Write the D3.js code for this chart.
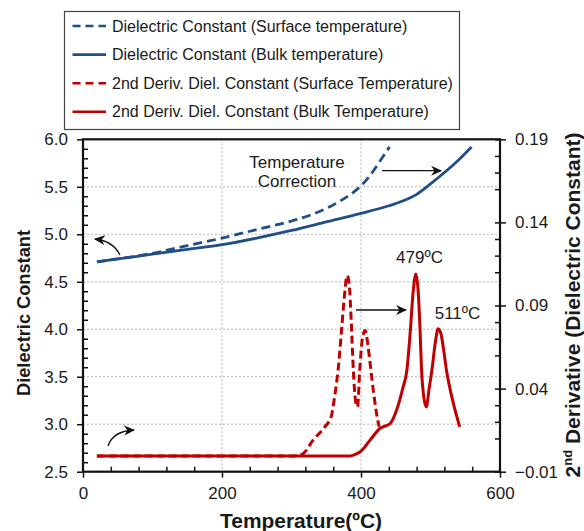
<!DOCTYPE html>
<html>
<head>
<meta charset="utf-8">
<script src="https://cdn.jsdelivr.net/npm/d3@7"></script>
<style>
body { margin: 0; background: #fff; }
text { font-family: "Liberation Sans", Arial, sans-serif; fill: #1a1a1a; }
</style>
</head>
<body>
<script>
// dielectric constant vs temperature (left axis)
var surfTemp = [20, 50, 100, 150, 200, 250, 300, 330, 355, 370, 385, 400, 410, 420, 430, 441];
var surfDiel = [4.71, 4.74, 4.80, 4.88, 4.96, 5.05, 5.14, 5.21, 5.29, 5.35, 5.42, 5.51, 5.59, 5.69, 5.80, 5.92];
var bulkTemp = [20, 50, 100, 150, 200, 250, 300, 350, 400, 440, 460, 480, 500, 520, 540, 559];
var bulkDiel = [4.71, 4.74, 4.79, 4.84, 4.89, 4.96, 5.04, 5.13, 5.22, 5.30, 5.35, 5.42, 5.53, 5.65, 5.78, 5.92];

// 2nd derivative (right axis)
var surfDerivTemp = [20, 305, 317, 331, 348, 357, 362, 367, 372, 376, 380, 383, 386, 389, 392, 395, 398, 402, 406, 410, 414, 418, 422, 426];
var surfDeriv = [-0.0005, -0.0005, 0.001, 0.009, 0.017, 0.023, 0.035, 0.051, 0.075, 0.095, 0.108, 0.103, 0.080, 0.051, 0.033, 0.029, 0.050, 0.070, 0.075, 0.066, 0.052, 0.038, 0.026, 0.017];
var bulkDerivTemp = [20, 384, 392, 399, 413, 427, 442, 452, 460, 466, 471, 475, 479, 482, 485, 487, 490, 494, 498, 502, 507, 511, 515, 519, 523, 528, 533, 538, 542];
var bulkDeriv = [-0.0005, -0.0005, 0.0005, 0.002, 0.009, 0.016, 0.019, 0.028, 0.040, 0.051, 0.075, 0.098, 0.109, 0.100, 0.075, 0.052, 0.036, 0.029, 0.040, 0.051, 0.068, 0.076, 0.073, 0.063, 0.051, 0.040, 0.031, 0.023, 0.017];

var xTicks = [0, 200, 400, 600];
var yLeftTicks = [2.5, 3.0, 3.5, 4.0, 4.5, 5.0, 5.5, 6.0];
var yRightTicks = [-0.01, 0.04, 0.09, 0.14, 0.19];

var legendLabels = [
	"Dielectric Constant (Surface temperature)",
	"Dielectric Constant (Bulk temperature)",
	"2nd Deriv. Diel. Constant (Surface Temperature)",
	"2nd Deriv. Diel. Constant (Bulk Temperature)"
];

var blue = "#1f4e89", red = "#c00000";
var W = 584, H = 531;
var pLeft = 83, pRight = 500, pTop = 139.3, pBottom = 471.7;

var svg = d3.select("body").append("svg")
	.attr("width", W)
	.attr("height", H);

var x = d3.scaleLinear().domain([0, 600]).range([pLeft, pRight]);
var yL = d3.scaleLinear().domain([2.5, 6.0]).range([pBottom, pTop]);
var yR = d3.scaleLinear().domain([-0.01, 0.19]).range([pBottom, pTop]);

// markers
var defs = svg.append("defs");
defs.append("marker")
	.attr("id", "head")
	.attr("markerUnits", "userSpaceOnUse")
	.attr("viewBox", "0 0 10 10")
	.attr("refX", 9).attr("refY", 5)
	.attr("markerWidth", 11).attr("markerHeight", 11)
	.attr("orient", "auto")
	.append("path")
	.attr("d", "M0,0.5 L10,5 L0,9.5 L3,5 Z")
	.attr("fill", "#111");

// gridlines
svg.append("g").selectAll("line")
	.data([3.0, 3.5, 4.0, 4.5, 5.0, 5.5])
	.enter().append("line")
	.attr("x1", pLeft).attr("x2", pRight)
	.attr("y1", function(d) { return yL(d); })
	.attr("y2", function(d) { return yL(d); })
	.attr("stroke", "#b5b5b5").attr("stroke-width", 1)
	.attr("stroke-dasharray", "2,2");
svg.append("g").selectAll("line")
	.data([200, 400])
	.enter().append("line")
	.attr("x1", function(d) { return x(d); })
	.attr("x2", function(d) { return x(d); })
	.attr("y1", pTop).attr("y2", pBottom)
	.attr("stroke", "#b5b5b5").attr("stroke-width", 1)
	.attr("stroke-dasharray", "2,2");

// axes
function minor(lo, hi, step, skip) {
	var out = [];
	for (var v = lo; v <= hi + 1e-9; v += step) {
		var r = Math.round(v * 1000) / 1000;
		if (Math.abs(r / skip - Math.round(r / skip)) > 1e-6) out.push(r);
	}
	return out;
}

function styleAxis(g) {
	g.select(".domain").remove();
	g.selectAll("line").attr("stroke", "#111").attr("stroke-width", 1.5);
	g.selectAll("text").style("font-size", "17px").attr("fill", "#1a1a1a");
}

svg.append("g")
	.attr("transform", "translate(0," + pBottom + ")")
	.call(d3.axisBottom(x).tickValues(xTicks).tickSize(6).tickPadding(9).tickFormat(d3.format("d")))
	.call(styleAxis);
svg.append("g")
	.attr("transform", "translate(0," + pBottom + ")")
	.call(d3.axisBottom(x).tickValues(minor(0, 600, 40, 200)).tickSize(-5).tickFormat(""))
	.call(styleAxis);

svg.append("g")
	.attr("transform", "translate(" + pLeft + ",0)")
	.call(d3.axisLeft(yL).tickValues(yLeftTicks).tickSize(6).tickPadding(9).tickFormat(d3.format(".1f")))
	.call(styleAxis);
svg.append("g")
	.attr("transform", "translate(" + pLeft + ",0)")
	.call(d3.axisLeft(yL).tickValues(minor(2.5, 6.0, 0.1, 0.5)).tickSize(-5).tickFormat(""))
	.call(styleAxis);

svg.append("g")
	.attr("transform", "translate(" + pRight + ",0)")
	.call(d3.axisRight(yR).tickValues(yRightTicks).tickSize(6).tickPadding(9).tickFormat(d3.format(".2f")))
	.call(styleAxis);
svg.append("g")
	.attr("transform", "translate(" + pRight + ",0)")
	.call(d3.axisRight(yR).tickValues(minor(-0.01, 0.19, 0.01, 0.05)).tickSize(-5).tickFormat(""))
	.call(styleAxis);

// plot frame
svg.append("rect")
	.attr("x", pLeft).attr("y", pTop)
	.attr("width", pRight - pLeft).attr("height", pBottom - pTop)
	.attr("fill", "none").attr("stroke", "#111").attr("stroke-width", 2.2);

// curves
var lineL = d3.line()
	.x(function(d) { return x(d[0]); })
	.y(function(d) { return yL(d[1]); })
	.curve(d3.curveMonotoneX);
var lineR = d3.line()
	.x(function(d) { return x(d[0]); })
	.y(function(d) { return yR(d[1]); })
	.curve(d3.curveMonotoneX);

svg.append("path")
	.datum(d3.zip(bulkDerivTemp, bulkDeriv))
	.attr("d", lineR)
	.attr("fill", "none").attr("stroke", red).attr("stroke-width", 3);
svg.append("path")
	.datum(d3.zip(surfDerivTemp, surfDeriv))
	.attr("d", lineR)
	.attr("fill", "none").attr("stroke", red).attr("stroke-width", 3)
	.attr("stroke-dasharray", "8,4");
svg.append("path")
	.datum(d3.zip(bulkTemp, bulkDiel))
	.attr("d", lineL)
	.attr("fill", "none").attr("stroke", blue).attr("stroke-width", 2.8);
svg.append("path")
	.datum(d3.zip(surfTemp, surfDiel))
	.attr("d", lineL)
	.attr("fill", "none").attr("stroke", blue).attr("stroke-width", 2.8)
	.attr("stroke-dasharray", "9,5");

// annotations
var note = svg.append("text")
	.attr("text-anchor", "middle")
	.style("font-size", "17px");
note.append("tspan").attr("x", 297).attr("y", 167.5).text("Temperature");
note.append("tspan").attr("x", 297).attr("y", 187).text("Correction");

svg.append("text").attr("x", 419.5).attr("y", 262.5)
	.attr("text-anchor", "middle").style("font-size", "17px").text("479ºC");
svg.append("text").attr("x", 457.5).attr("y", 318.5)
	.attr("text-anchor", "middle").style("font-size", "17px").text("511ºC");

svg.append("line")
	.attr("x1", 382).attr("y1", 170.7).attr("x2", 441).attr("y2", 170.7)
	.attr("stroke", "#111").attr("stroke-width", 1.3)
	.attr("marker-end", "url(#head)");
svg.append("line")
	.attr("x1", 356).attr("y1", 310).attr("x2", 406).attr("y2", 310)
	.attr("stroke", "#111").attr("stroke-width", 1.3)
	.attr("marker-end", "url(#head)");
svg.append("path")
	.attr("d", "M120,255 Q113,241 95,239")
	.attr("fill", "none").attr("stroke", "#111").attr("stroke-width", 1.3)
	.attr("marker-end", "url(#head)");
svg.append("path")
	.attr("d", "M108,446 Q113,431 134,430")
	.attr("fill", "none").attr("stroke", "#111").attr("stroke-width", 1.3)
	.attr("marker-end", "url(#head)");

// axis titles
svg.append("text")
	.attr("transform", "translate(30,313) rotate(-90)")
	.attr("text-anchor", "middle")
	.attr("textLength", 166).attr("lengthAdjust", "spacingAndGlyphs")
	.style("font-size", "18px").style("font-weight", "bold")
	.text("Dielectric Constant");

var rt = svg.append("text")
	.attr("transform", "translate(580,305) rotate(-90)")
	.attr("text-anchor", "middle")
	.style("font-size", "21px").style("font-weight", "bold");
rt.append("tspan").text("2");
rt.append("tspan").attr("dy", -8).style("font-size", "13px").text("nd");
rt.append("tspan").attr("dy", 8).text(" Derivative (Dielectric Constant)");

svg.append("text")
	.attr("x", 301).attr("y", 528)
	.attr("text-anchor", "middle")
	.attr("textLength", 162).attr("lengthAdjust", "spacingAndGlyphs")
	.style("font-size", "20px").style("font-weight", "bold")
	.text("Temperature(ºC)");

// legend
svg.append("rect")
	.attr("x", 64.5).attr("y", 11.5)
	.attr("width", 395).attr("height", 118)
	.attr("fill", "#fff").attr("stroke", "#444").attr("stroke-width", 1.2);

var legendColors = [blue, blue, red, red];
var legendDash = ["8,5", null, "8,5", null];
var rows = svg.append("g").selectAll("g")
	.data(legendLabels)
	.enter().append("g")
	.attr("transform", function(d, i) { return "translate(0," + (26 + i * 28.6) + ")"; });
rows.append("line")
	.attr("x1", 72.5).attr("x2", 106)
	.attr("stroke", function(d, i) { return legendColors[i]; })
	.attr("stroke-width", 2.6)
	.attr("stroke-dasharray", function(d, i) { return legendDash[i]; });
rows.append("text")
	.attr("x", 112).attr("dy", "0.35em")
	.style("font-size", "16px")
	.text(function(d) { return d; });
</script>
</body>
</html>
